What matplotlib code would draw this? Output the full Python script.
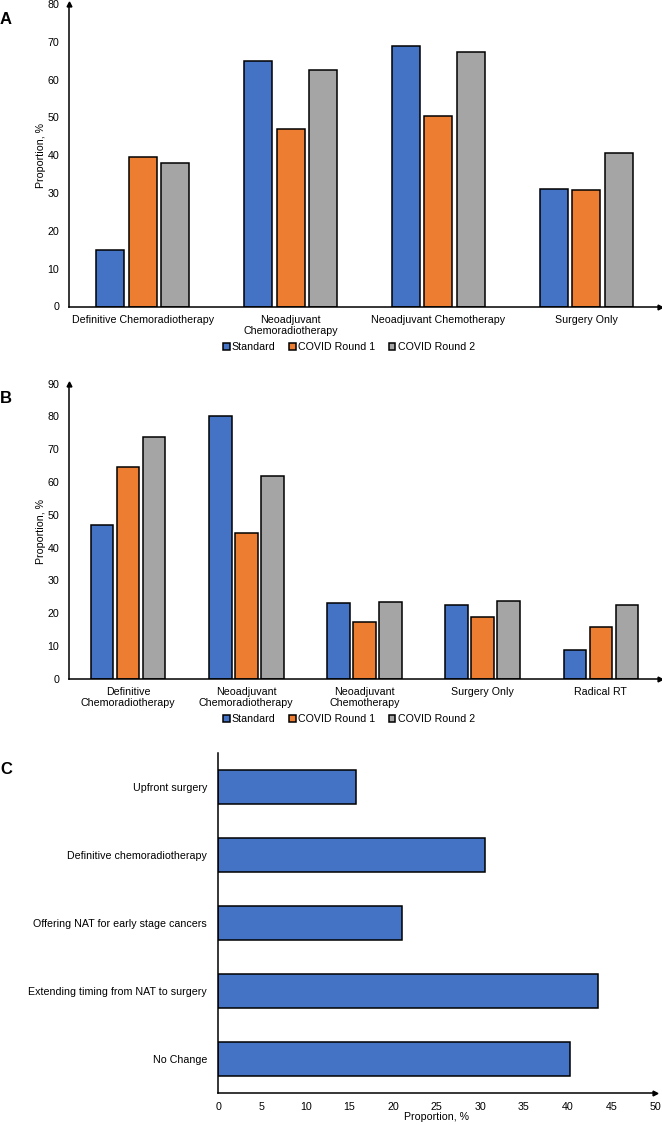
import matplotlib
matplotlib.use("Agg")
import matplotlib.pyplot as plt
import numpy as np

plt.rcParams['font.family'] = ['Liberation Sans', 'DejaVu Sans']

# ---- Data ----
series_names = ["Standard", "COVID Round 1", "COVID Round 2"]
colors = ["#4472C4", "#ED7D31", "#A5A5A5"]

a_categories = ["Definitive Chemoradiotherapy", "Neoadjuvant\nChemoradiotherapy",
                "Neoadjuvant Chemotherapy", "Surgery Only"]
a_standard = [14.9, 65.0, 68.8, 31.0]
a_covid1 = [39.6, 47.0, 50.3, 30.7]
a_covid2 = [37.9, 62.5, 67.4, 40.7]
a_yticks = [0, 10, 20, 30, 40, 50, 60, 70, 80]

b_categories = ["Definitive\nChemoradiotherapy", "Neoadjuvant\nChemoradiotherapy",
                "Neoadjuvant\nChemotherapy", "Surgery Only", "Radical RT"]
b_standard = [46.9, 80.2, 23.0, 22.4, 8.8]
b_covid1 = [64.6, 44.4, 17.4, 19.0, 15.7]
b_covid2 = [73.8, 61.9, 23.3, 23.8, 22.6]
b_yticks = [0, 10, 20, 30, 40, 50, 60, 70, 80, 90]

c_categories = ["Upfront surgery", "Definitive chemoradiotherapy",
                "Offering NAT for early stage cancers",
                "Extending timing from NAT to surgery", "No Change"]
c_values = [15.8, 30.5, 21.0, 43.5, 40.3]
c_xticks = [0, 5, 10, 15, 20, 25, 30, 35, 40, 45, 50]

FS = 7.7
W, H = 662, 1125
fig = plt.figure(figsize=(W / 100, H / 100), dpi=100)


def fx(px):
    return px / W


def fy(py):
    return 1 - py / H


def style_axes(ax, yarrow=True):
    for s in ["top", "right"]:
        ax.spines[s].set_visible(False)
    for s in ["left", "bottom"]:
        ax.spines[s].set_linewidth(1.1)
        ax.spines[s].set_color("black")
    ax.tick_params(length=0, labelsize=FS, colors="black")
    ax.plot([1], [0], marker=">", color="black", markersize=3.5,
            transform=ax.transAxes, clip_on=False)
    if yarrow:
        ax.plot([0], [1], marker="^", color="black", markersize=3.5,
                transform=ax.transAxes, clip_on=False)


def grouped(ax, cats, series, ymax, yticks):
    x = np.arange(len(cats))
    offs = [-0.22, 0, 0.22]
    for i, vals in enumerate(series):
        ax.bar(x + offs[i], vals, width=0.19, color=colors[i], edgecolor="black",
               linewidth=1.1, label=series_names[i], zorder=2)
    ax.set_xlim(-0.5, len(cats) - 0.5)
    ax.set_ylim(0, ymax)
    ax.set_yticks(yticks)
    ax.set_xticks(x)
    ax.set_xticklabels(cats, linespacing=1.1)
    ax.tick_params(axis="y", pad=7)
    ax.tick_params(axis="x", pad=6)
    ax.set_ylabel("Proportion, %", fontsize=FS)
    ax.yaxis.set_label_coords(-0.039, 0.5)
    style_axes(ax)


# ---- Panel A ----
axA = fig.add_axes([fx(69), fy(306.5), fx(660 - 69), (306.5 - 4) / H])
grouped(axA, a_categories, [a_standard, a_covid1, a_covid2], 80, a_yticks)
fig.legend(*axA.get_legend_handles_labels(), loc="center", ncol=3,
           bbox_to_anchor=(fx(349), fy(347.3)), frameon=False, fontsize=FS,
           handlelength=0.6, handleheight=0.6, handletextpad=0.2,
           columnspacing=1.3, borderpad=0)

# ---- Panel B ----
axB = fig.add_axes([fx(69), fy(678.8), fx(660 - 69), (678.8 - 383.7) / H])
grouped(axB, b_categories, [b_standard, b_covid1, b_covid2], 90, b_yticks)
fig.legend(*axB.get_legend_handles_labels(), loc="center", ncol=3,
           bbox_to_anchor=(fx(349), fy(719.3)), frameon=False, fontsize=FS,
           handlelength=0.6, handleheight=0.6, handletextpad=0.2,
           columnspacing=1.3, borderpad=0)

# ---- Panel C ----
axC = fig.add_axes([fx(218.3), fy(1092.7), fx(655 - 218.3), (1092.7 - 752.7) / H])
yc = np.arange(len(c_categories))
axC.barh(yc, c_values, height=0.5, color=colors[0], edgecolor="black",
         linewidth=1.1, zorder=2)
axC.set_ylim(len(c_categories) - 0.5, -0.5)
axC.set_xlim(0, 50)
axC.set_xticks(c_xticks)
axC.set_yticks(yc)
axC.set_yticklabels(c_categories)
axC.tick_params(axis="y", pad=8)
axC.tick_params(axis="x", pad=7)
axC.set_xlabel("Proportion, %", fontsize=FS)
axC.xaxis.set_label_coords(0.5, -(1112 - 1092.7) / 340)
style_axes(axC, yarrow=False)

# ---- Panel letters ----
for letter, ypx in [("A", 19.2), ("B", 398.3), ("C", 770)]:
    fig.text(0.0, fy(ypx), letter, fontsize=12, fontweight="bold",
             ha="left", va="center")

fig.savefig("out.png", dpi=100)
